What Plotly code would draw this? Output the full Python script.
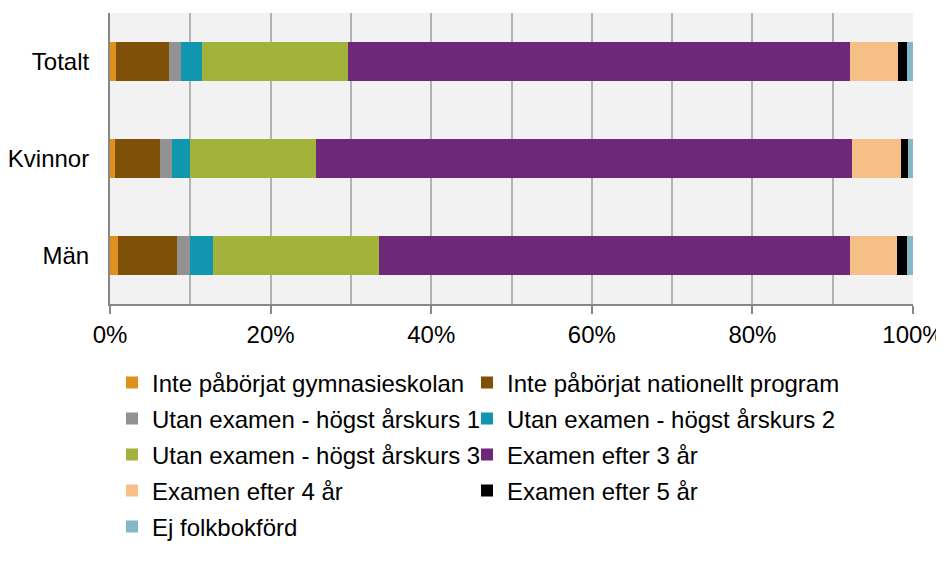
import plotly.graph_objects as go

categories = ["Totalt", "Kvinnor", "Män"]

series_names = [
    "Inte påbörjat gymnasieskolan",
    "Inte påbörjat nationellt program",
    "Utan examen - högst årskurs 1",
    "Utan examen - högst årskurs 2",
    "Utan examen - högst årskurs 3",
    "Examen efter 3 år",
    "Examen efter 4 år",
    "Examen efter 5 år",
    "Ej folkbokförd",
]

# percent shares per category (Totalt, Kvinnor, Män)
inte_paborjat_gy = [0.8, 0.6, 1.0]
inte_paborjat_nat = [6.5, 5.6, 7.4]
utan_examen_ak1 = [1.6, 1.5, 1.55]
utan_examen_ak2 = [2.5, 2.3, 2.85]
utan_examen_ak3 = [18.2, 15.7, 20.7]
examen_3_ar = [62.6, 66.75, 58.7]
examen_4_ar = [5.9, 6.0, 5.8]
examen_5_ar = [1.1, 0.9, 1.2]
ej_folkbokford = [0.8, 0.7, 0.8]

series_values = [
    inte_paborjat_gy, inte_paborjat_nat, utan_examen_ak1, utan_examen_ak2,
    utan_examen_ak3, examen_3_ar, examen_4_ar, examen_5_ar, ej_folkbokford,
]

colors = ["#DE911C", "#7F5007", "#929292", "#1196AF", "#A2B23A",
          "#6E2879", "#F7BF88", "#000000", "#84B8C6"]

FONT = "Arial, 'Liberation Sans', sans-serif"
FS = 24

# The page body has an 8px margin, so the figure is 8px smaller than the window
OFF = 8
W, H = 944 - OFF, 567 - OFF
plot_left, plot_right = 110 - OFF, 913 - OFF
plot_top, plot_bottom = 13 - OFF, 304 - OFF
plot_w = plot_right - plot_left
plot_h = plot_bottom - plot_top

fig = go.Figure()
layout_legends = {}
row_px = [383, 419, 455, 491, 527]          # screen y of legend rows
col_text_px = [154, 509]                    # screen x where legend texts start
for i, (name, vals, col) in enumerate(zip(series_names, series_values, colors)):
    key = "legend" if i == 0 else f"legend{i+1}"
    fig.add_trace(go.Bar(
        y=categories, x=vals, name=name, orientation="h",
        marker=dict(color=col, line=dict(width=0)),
        legend=key,
    ))
    r, c = divmod(i, 2)
    left_px = col_text_px[c] - 42 - OFF
    layout_legends[key] = dict(
        orientation="v", xanchor="left", yanchor="middle",
        x=(left_px - plot_left) / plot_w,
        y=(plot_bottom - (row_px[r] - OFF)) / plot_h,
        font=dict(family=FONT, size=FS, color="#000000"),
        bgcolor="rgba(0,0,0,0)", itemclick=False, itemdoubleclick=False,
    )

fig.update_layout(
    width=W, height=H,
    margin=dict(l=plot_left, r=W - plot_right, t=plot_top, b=H - plot_bottom,
                autoexpand=False),
    barmode="stack", bargap=0.6,
    plot_bgcolor="#F2F2F2", paper_bgcolor="#FFFFFF",
    font=dict(family=FONT, size=FS, color="#000000"),
    showlegend=True,
    **layout_legends,
)

fig.update_xaxes(
    range=[0, 100], dtick=20, ticksuffix="%",
    showgrid=True, gridcolor="#B3B3B3", gridwidth=1.5,
    minor=dict(dtick=10, showgrid=True, gridcolor="#B3B3B3", gridwidth=1.5),
    showline=True, linecolor="#878787", linewidth=2,
    ticks="outside", ticklen=8, tickcolor="#878787", tickwidth=1.5,
    zeroline=False, fixedrange=True, automargin=False,
    tickfont=dict(family=FONT, size=FS, color="#000000"),
)
fig.update_yaxes(
    autorange="reversed",
    showline=True, linecolor="#878787", linewidth=2,
    showgrid=False, ticks="", ticklabelstandoff=14, automargin=False,
    tickfont=dict(family=FONT, size=FS, color="#000000"),
    fixedrange=True,
)

fig.write_html("out.html")
